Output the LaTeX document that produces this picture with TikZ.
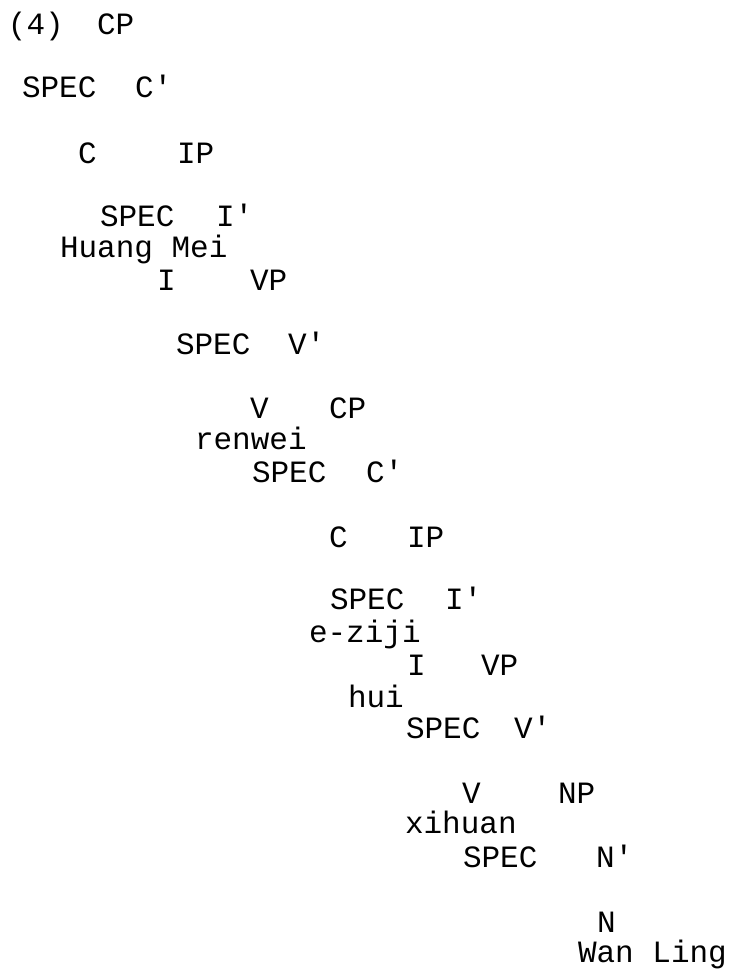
\documentclass[tikz,border=0pt]{standalone}
\usepackage{fontspec}
\newfontfamily\treefont{Liberation Mono}
\tikzset{lbl/.style={anchor=base west,inner sep=0pt,outer sep=0pt,font=\treefont\fontsize{31}{31}\selectfont}}
\begin{document}
\begin{tikzpicture}[x=1pt,y=-1pt]
\useasboundingbox[fill=white] (0,0) rectangle (736,969);

%matrix clause
\node[lbl] (num) at (8,34) {(4)};
\node[lbl] (cp1) at (97,34) {CP};
\node[lbl] (specc1) at (22,97) {SPEC};
\node[lbl] (cbar1) at (135,97) {C'};
\node[lbl] (c1) at (78,163) {C};
\node[lbl] (ip1) at (177,163) {IP};
\node[lbl] (speci1) at (100,226) {SPEC};
\node[lbl] (ibar1) at (216,226) {I'};
\node[lbl] (subj1) at (60,257) {Huang Mei};
\node[lbl] (i1) at (157,290) {I};
\node[lbl] (vp1) at (250,290) {VP};
\node[lbl] (specv1) at (176,354) {SPEC};
\node[lbl] (vbar1) at (288,354) {V'};
\node[lbl] (v1) at (250,418) {V};
\node[lbl] (cp2) at (329,418) {CP};
\node[lbl] (verb1) at (195,449) {renwei};

%embedded clause
\node[lbl] (specc2) at (252,482) {SPEC};
\node[lbl] (cbar2) at (366,482) {C'};
\node[lbl] (c2) at (329,547) {C};
\node[lbl] (ip2) at (407,547) {IP};
\node[lbl] (speci2) at (330,609) {SPEC};
\node[lbl] (ibar2) at (445,609) {I'};
\node[lbl] (subj2) at (309,642) {e-ziji};
\node[lbl] (i2) at (407,675) {I};
\node[lbl] (vp2) at (481,675) {VP};
\node[lbl] (aux2) at (348,707) {hui};
\node[lbl] (specv2) at (406,738) {SPEC};
\node[lbl] (vbar2) at (514,738) {V'};
\node[lbl] (v2) at (462,803) {V};
\node[lbl] (np2) at (558,803) {NP};
\node[lbl] (verb2) at (405,833) {xihuan};
\node[lbl] (specn2) at (463,867) {SPEC};
\node[lbl] (nbar2) at (596,867) {N'};
\node[lbl] (n2) at (597,932) {N};
\node[lbl] (obj2) at (578,962) {Wan Ling};

\end{tikzpicture}
\end{document}
